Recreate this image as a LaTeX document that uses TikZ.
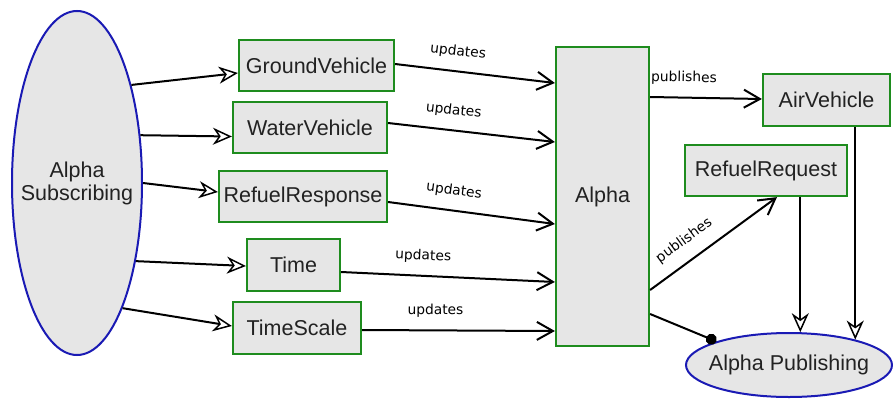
\documentclass[tikz,border=0pt]{standalone}
\usepackage{fontspec}
\setmainfont{Liberation Sans}
\newfontfamily\labelfont{DejaVu Sans}
\usetikzlibrary{arrows.meta,calc,shapes.geometric}

\definecolor{boxfill}{HTML}{E6E6E6}
\definecolor{boxline}{HTML}{1E8C1E}
\definecolor{ellline}{HTML}{1A1AB4}
\definecolor{textgray}{HTML}{222222}

\tikzset{
  classbox/.style={draw=boxline, line width=2.2pt, fill=boxfill, inner sep=0pt,
    text=textgray, font=\fontsize{21.5}{23}\selectfont},
  roleell/.style={ellipse, draw=ellline, line width=2pt, fill=boxfill,
    inner xsep=-40pt, inner ysep=-10pt,
    text=textgray, align=center, font=\fontsize{21.5}{23}\selectfont},
  link/.style={line width=2pt, draw=black},
  subarrow/.style={link, -{Stealth[open, fill=white, line width=1.5pt, length=19pt, width=17pt, inset=6pt]}},
  updarrow/.style={link, -{Straight Barb[length=16pt, width=18pt]}},
  downarrow/.style={link, -{Stealth[open, fill=white, line width=1.5pt, length=19pt, width=17pt, inset=6pt]}},
  dotlink/.style={link, -{Circle[length=11pt]}},
  lbl/.style={pos=0.38, sloped, above=10pt, inner sep=2pt, text=black,
    font=\labelfont\fontsize{13.8}{16}\selectfont},
}

\begin{document}
\begin{tikzpicture}[x=1pt, y=-1pt]
  \useasboundingbox (0,0) rectangle (893,399);
  \fill[white] (0,0) rectangle (893,399);

  % roles
  \node[roleell, minimum width=130pt, minimum height=344pt] (sub) at (77,183) {Alpha\\Subscribing};
  \node[roleell, minimum width=206pt, minimum height=64pt] (pub) at (789,365) {Alpha Publishing};

  % subscribed classes
  \node[classbox, minimum width=155pt, minimum height=51pt] (gv) at (316.5,65.5) {GroundVehicle};
  \node[classbox, minimum width=154pt, minimum height=51pt] (wv) at (310,127.5) {WaterVehicle};
  \node[classbox, minimum width=168pt, minimum height=51pt] (rs) at (303,196.5) {RefuelResponse};
  \node[classbox, minimum width=93pt, minimum height=52pt] (tm) at (293.5,265) {Time};
  \node[classbox, minimum width=128pt, minimum height=52pt] (ts) at (297,328) {TimeScale};

  % federate
  \node[classbox, minimum width=93pt, minimum height=299pt] (alpha) at (602.5,196.5) {Alpha};

  % published classes
  \node[classbox, minimum width=127pt, minimum height=52pt] (av) at (826.5,100) {AirVehicle};
  \node[classbox, minimum width=162pt, minimum height=51pt] (rq) at (766,170.5) {RefuelRequest};

  % subscription arrows
  \draw[subarrow] (sub.61.4) -- ($(gv.west)+(0,7.5)$);
  \draw[subarrow] (sub.37) -- ($(wv.west)+(0,9)$);
  \draw[subarrow] (sub.east) -- ($(rs.west)+(0,-4.5)$);
  \draw[subarrow] (sub.-53.5) -- ($(tm.west)+(0,1)$);
  \draw[subarrow] (sub.-70.8) -- ($(ts.west)+(0,-2)$);

  % updates into the federate
  \draw[updarrow] ($(gv.east)+(0,-1.5)$) -- node[lbl] {updates} ($(alpha.west)+(0,-113.5)$);
  \draw[updarrow] ($(wv.east)+(0,-4.5)$) -- node[lbl] {updates} ($(alpha.west)+(0,-54.5)$);
  \draw[updarrow] ($(rs.east)+(0,5.5)$) -- node[lbl] {updates} ($(alpha.west)+(0,27.5)$);
  \draw[updarrow] ($(tm.east)+(0,7)$) -- node[lbl] {updates} ($(alpha.west)+(0,85.5)$);
  \draw[updarrow] ($(ts.east)+(0,2)$) -- node[lbl] {updates} ($(alpha.west)+(0,134.5)$);

  % publications
  \draw[updarrow] ($(alpha.east)+(0,-99.5)$) -- node[lbl, pos=0.3] {publishes} ($(av.west)+(0,-1)$);
  \draw[updarrow] ($(alpha.east)+(0,93.5)$) -- node[lbl, pos=0.36] {publishes} ($(rq.south)+(11,0)$);
  \draw[dotlink] ($(alpha.east)+(0,117.5)$) -- (pub.162);

  % published classes feeding the publishing role
  \draw[downarrow] (rq.south -| pub.71.5) -- (pub.71.5);
  \draw[downarrow] (av.south -| pub.21) -- (pub.21);
\end{tikzpicture}
\end{document}
